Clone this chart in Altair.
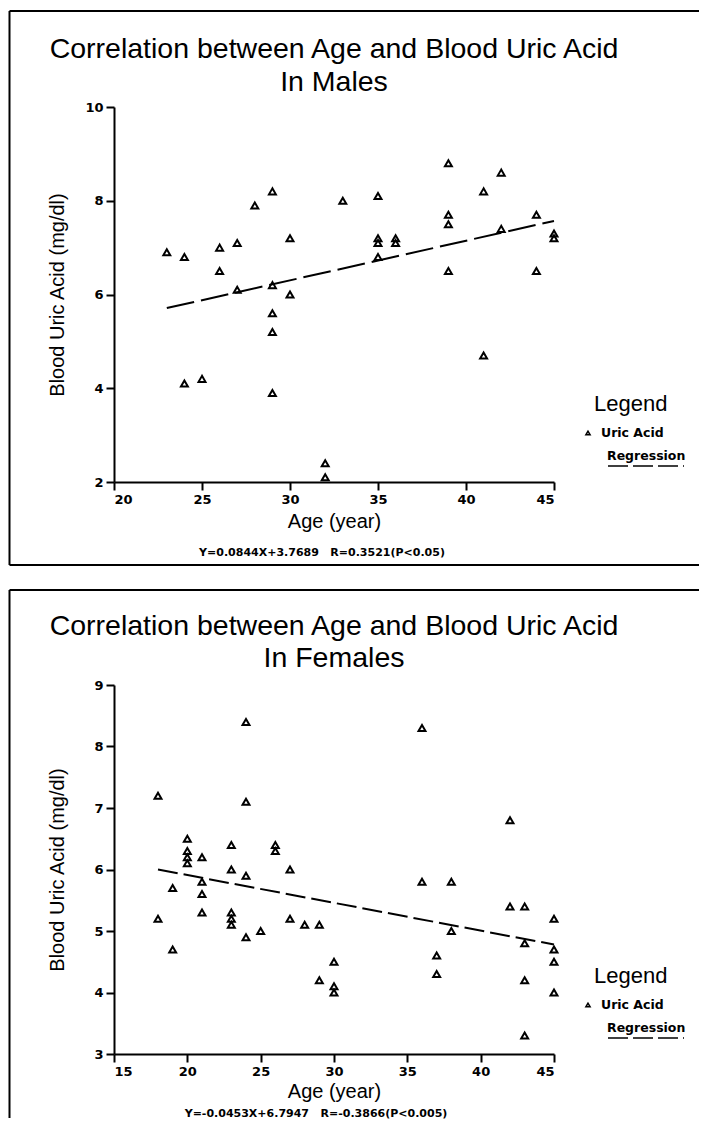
import altair as alt
import pandas as pd

# ---- data ----
male_age = [23, 24, 24, 25, 26, 26, 27, 27, 28, 29, 29, 29, 29, 29, 30, 30, 32, 32, 33,
            35, 35, 35, 35, 36, 36, 39, 39, 39, 39, 41, 41, 42, 42, 44, 44, 45, 45]
male_ua = [6.9, 6.8, 4.1, 4.2, 7.0, 6.5, 7.1, 6.1, 7.9, 8.2, 6.2, 5.6, 5.2, 3.9, 7.2, 6.0, 2.4, 2.1, 8.0,
           8.1, 7.2, 7.1, 6.8, 7.2, 7.1, 8.8, 7.7, 7.5, 6.5, 8.2, 4.7, 8.6, 7.4, 7.7, 6.5, 7.3, 7.2]

female_age = [18, 18, 19, 19, 20, 20, 20, 20, 21, 21, 21, 21, 23, 23, 23, 23, 23,
              24, 24, 24, 24, 25, 26, 26, 27, 27, 28, 29, 29, 30, 30, 30,
              36, 36, 37, 37, 38, 38, 42, 42, 43, 43, 43, 43, 45, 45, 45, 45]
female_ua = [7.2, 5.2, 5.7, 4.7, 6.5, 6.3, 6.2, 6.1, 6.2, 5.8, 5.6, 5.3, 6.4, 6.0, 5.3, 5.2, 5.1,
             8.4, 7.1, 5.9, 4.9, 5.0, 6.4, 6.3, 6.0, 5.2, 5.1, 5.1, 4.2, 4.5, 4.1, 4.0,
             8.3, 5.8, 4.6, 4.3, 5.8, 5.0, 6.8, 5.4, 5.4, 4.8, 4.2, 3.3, 5.2, 4.7, 4.5, 4.0]

male_fit_age = [23, 45]
male_fit_ua = [5.71, 7.57]
female_fit_age = [18, 45]
female_fit_ua = [6.00, 4.78]

male_x_ticks = [20, 25, 30, 35, 40, 45]
male_y_ticks = [2, 4, 6, 8, 10]
female_x_ticks = [15, 20, 25, 30, 35, 40, 45]
female_y_ticks = [3, 4, 5, 6, 7, 8, 9]

title_line1 = "Correlation between Age and Blood Uric Acid"
male_title_line2 = "In Males"
female_title_line2 = "In Females"
male_equation = "Y=0.0844X+3.7689\u00a0\u00a0\u00a0R=0.3521(P<0.05)"
female_equation = "Y=-0.0453X+6.7947\u00a0\u00a0\u00a0R=-0.3866(P<0.005)"
legend_title = "Legend"
legend_points = "Uric Acid"
legend_line = "Regression"

TITLE_FONT = "Liberation Sans"
LABEL_FONT = "DejaVu Sans"
W = 440


def one():
    return pd.DataFrame({"k": [0]})


def txt(text, px, py, size, font, weight="normal", align="left"):
    return alt.Chart(one()).mark_text(
        fontSize=size, font=font, fontWeight=weight, align=align,
        baseline="alphabetic", color="black"
    ).encode(x=alt.value(px), y=alt.value(py), text=alt.value(text))


def rule(x1, x2, y1, y2, width=2, dash=None):
    kw = dict(color="black", strokeWidth=width)
    if dash:
        kw["strokeDash"] = dash
    return alt.Chart(one()).mark_rule(**kw).encode(
        x=alt.value(x1), x2=alt.value(x2), y=alt.value(y1), y2=alt.value(y2))


def panel(ages, uas, fit_ages, fit_uas, xdom, xticks, ydom, yticks, line2, eq, H,
          frame_top, frame_bottom, draw_bottom, dash, eq_x, eq_y, leg_y, ytp, xtp, t1, t2):
    pts = pd.DataFrame({"age": ages, "ua": uas})
    fit = pd.DataFrame({"age": fit_ages, "ua": fit_uas})
    x = alt.X("age:Q", scale=alt.Scale(domain=xdom, nice=False, zero=False),
              axis=alt.Axis(values=xticks, title="Age (year)", format="d", titlePadding=xtp))
    y = alt.Y("ua:Q", scale=alt.Scale(domain=ydom, nice=False, zero=False),
              axis=alt.Axis(values=yticks, title="Blood Uric Acid (mg/dl)", format="d",
                            titlePadding=ytp))
    points = alt.Chart(pts).mark_point(
        shape="triangle-up", filled=False, color="black", size=48,
        strokeWidth=2, opacity=1).encode(x=x, y=y)
    line = alt.Chart(fit).mark_line(
        color="black", strokeWidth=2, strokeDash=dash).encode(x=x, y=y)
    layers = [
        rule(-104.5, 585, frame_top, frame_top),
        rule(-104.5, -104.5, frame_top, frame_bottom),
    ]
    if draw_bottom:
        layers.append(rule(-104.5, 585, frame_bottom, frame_bottom))
    layers += [
        txt(title_line1, W / 2, t1, 28.5, TITLE_FONT, align="center"),
        txt(line2, W / 2, t2, 28.5, TITLE_FONT, align="center"),
        txt(eq, eq_x, eq_y, 11, LABEL_FONT, weight="bold", align="center"),
        txt(legend_title, 480, leg_y, 22, TITLE_FONT),
        alt.Chart(one()).mark_point(shape="triangle-up", filled=False, color="black",
                                    size=18, strokeWidth=1.5, opacity=1).encode(
            x=alt.value(474), y=alt.value(leg_y + 22)),
        txt(legend_points, 487, leg_y + 26, 12.5, LABEL_FONT, weight="bold"),
        txt(legend_line, 493, leg_y + 49, 12.5, LABEL_FONT, weight="bold"),
        rule(494, 570, leg_y + 55, leg_y + 55, width=1.6, dash=[20, 5]),
        line,
        points,
    ]
    return alt.layer(*layers).properties(width=W, height=H)


top = panel(male_age, male_ua, male_fit_age, male_fit_ua, [20, 45], male_x_ticks,
            [2, 10], male_y_ticks, male_title_line2, male_equation, 375,
            -96, 458, True, [28, 7], 208, 449, 304, 17, 5, -49, -16)
bottom = panel(female_age, female_ua, female_fit_age, female_fit_ua, [15, 45], female_x_ticks,
               [3, 9], female_y_ticks, female_title_line2, female_equation, 369,
               -95, 433, False, [20, 6], 202, 432, 298, 26, 3, -50, -18)

chart = alt.vconcat(top, bottom, spacing=23).properties(
    padding={"left": 0, "top": 2, "right": 0, "bottom": 0}
).configure_view(stroke=None).configure_axis(
    grid=False,
    domainColor="black", domainWidth=2,
    tickColor="black", tickWidth=2, tickSize=8,
    labelFont=LABEL_FONT, labelFontWeight="bold", labelFontSize=13, labelColor="black",
    labelPadding=3,
    titleFont=TITLE_FONT, titleFontSize=20, titleFontWeight="normal", titleColor="black",
)

chart.save("out.html", embed_options={"renderer": "svg", "actions": False})
